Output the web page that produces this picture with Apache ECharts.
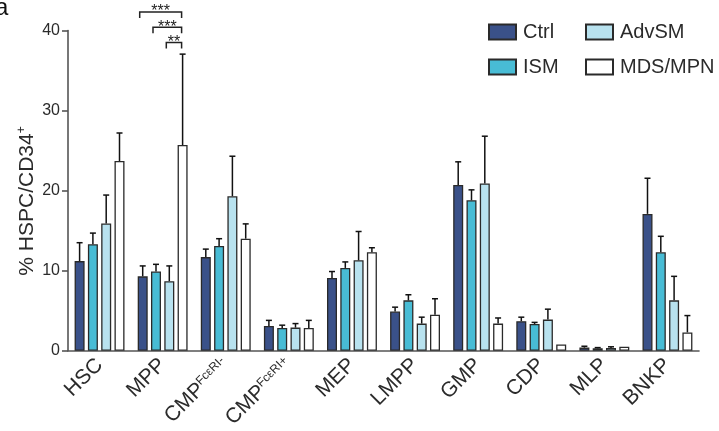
<!DOCTYPE html>
<html>
<head>
<meta charset="utf-8">
<script src="https://cdn.jsdelivr.net/npm/echarts@6/dist/echarts.min.js"></script>
<style>html,body{margin:0;padding:0;background:#fff;}#c{width:719px;height:431px;}</style>
</head>
<body>
<div id="c"></div>
<script>
// ---- data ----
const categories = ['HSC', 'MPP', 'CMP^FcεRI-', 'CMP^FcεRI+', 'MEP', 'LMPP', 'GMP', 'CDP', 'MLP', 'BNKP'];
const seriesNames = ['Ctrl', 'ISM', 'AdvSM', 'MDS/MPN'];
const ctrl    = [11.2, 9.3, 11.7, 3.1, 9.1, 4.9, 20.7, 3.7, 0.4, 17.1];
const ctrlErr = [13.5, 10.6, 12.7, 3.8, 9.9, 5.45, 23.6, 4.2, 0.57, 21.55];
const ism     = [13.3, 9.9, 13.1, 2.85, 10.35, 6.3, 18.8, 3.35, 0.32, 12.3];
const ismErr  = [14.7, 10.8, 14.0, 3.2, 11.1, 7.0, 20.1, 3.55, 0.4, 14.3];
const adv     = [15.9, 8.7, 19.3, 2.9, 11.3, 3.4, 20.9, 3.9, 0.36, 6.3];
const advErr  = [19.45, 10.6, 24.3, 3.4, 14.9, 4.2, 26.8, 5.2, 0.5, 9.3];
const mds     = [23.7, 25.7, 14.0, 2.85, 12.3, 4.5, 3.4, 0.8, 0.5, 2.3];
const mdsErr  = [27.2, 37.05, 15.85, 3.8, 12.87, 6.5, 4.1, null, null, 4.4];
const yTicks = [0, 10, 20, 30, 40];
// significance brackets: [category index, from series, to series, y level]
const brackets = [[1, 0, 3, 42.3], [1, 1, 3, 40.4], [1, 2, 3, 38.5]];
const bracketStars = ['***', '***', '**'];

// ---- styling ----
const colors = ['#3a5189', '#48bcd5', '#b8e2ef', '#ffffff'];
const values = [ctrl, ism, adv, mds];
const errs = [ctrlErr, ismErr, advErr, mdsErr];
const BW = 10, GAP = 3.3;
const offsets = [0, 1, 2, 3].map(i => -(4 * BW + 3 * GAP) / 2 + BW / 2 + i * (BW + GAP));
const FONT = '"Liberation Sans", Arial, Helvetica, sans-serif';
const TXT = '#2b2b2b';

const chart = echarts.init(document.getElementById('c'), null, {renderer: 'canvas'});

const barSeries = seriesNames.map((n, i) => ({
  name: n, type: 'bar', data: values[i], barWidth: BW, barGap: (GAP / BW * 100) + '%',
  itemStyle: {color: colors[i], borderColor: '#2a2a2a', borderWidth: 1.3},
  z: 2
}));

const errSeries = seriesNames.map((n, i) => ({
  type: 'custom', z: 3, silent: true,
  data: categories.map((c, j) => [j, values[i][j], errs[i][j] == null ? NaN : errs[i][j]]),
  encode: {x: 0, y: [1, 2]},
  renderItem: function (params, api) {
    const e = api.value(2);
    if (isNaN(e)) return null;
    const p = api.coord([api.value(0), api.value(1)]);
    const q = api.coord([api.value(0), e]);
    const x = p[0] + offsets[i];
    const st = {stroke: '#111', lineWidth: 1.5};
    return {type: 'group', children: [
      {type: 'line', shape: {x1: x, y1: p[1], x2: x, y2: q[1]}, style: st},
      {type: 'line', shape: {x1: x - 3, y1: q[1], x2: x + 3, y2: q[1]}, style: st}
    ]};
  }
}));

const bracketSeries = {
  type: 'custom', z: 4, silent: true, clip: false,
  data: brackets,
  encode: {x: 0, y: 3},
  renderItem: function (params, api) {
    const c = api.coord([api.value(0), api.value(3)]);
    const xl = c[0] + offsets[api.value(1)] - 3;
    const xr = c[0] + offsets[api.value(2)] - 1;
    const y = c[1];
    const st = {stroke: '#222', lineWidth: 1.5, fill: null};
    return {type: 'group', children: [
      {type: 'polyline', shape: {points: [[xl, y + 6], [xl, y], [xr, y], [xr, y + 6]]}, style: st},
      {type: 'text', style: {text: bracketStars[params.dataIndex], x: (xl + xr) / 2, y: y + 8,
        align: 'center', verticalAlign: 'bottom', fontSize: 16, fontFamily: FONT, fill: '#222'}}
    ]};
  }
};

const legendCommon = {
  orient: 'vertical', top: 22, padding: 0, icon: 'rect', itemWidth: 27, itemHeight: 15, itemGap: 15,
  selectedMode: false,
  textStyle: {fontSize: 20, fontFamily: FONT, color: TXT, padding: [0, 0, 0, 2]}
};

chart.setOption({
  animation: false,
  backgroundColor: '#fff',
  grid: {left: 68, right: 20, top: 30.5, bottom: 78.7},
  legend: [
    Object.assign({data: ['Ctrl', 'ISM'], left: 488}, legendCommon),
    Object.assign({data: ['AdvSM', 'MDS/MPN'], left: 585}, legendCommon)
  ],
  xAxis: {
    type: 'category', data: categories,
    axisLine: {lineStyle: {color: '#555', width: 1.6}},
    axisTick: {alignWithLabel: true, length: 6, lineStyle: {color: '#555', width: 1.6}},
    axisLabel: {
      rotate: 45, margin: 11, interval: 0, fontSize: 21, fontFamily: FONT, color: TXT,
      formatter: function (v) {
        const parts = v.split('^');
        return parts.length > 1 ? '{b|' + parts[0] + '}{s|' + parts[1] + '}' : '{b|' + v + '}';
      },
      rich: {
        b: {fontSize: 21, fontFamily: FONT, color: TXT},
        s: {fontSize: 12, fontFamily: FONT, color: TXT, verticalAlign: 'top', padding: [0, 0, 8, 0]}
      }
    }
  },
  yAxis: {
    type: 'value', min: yTicks[0], max: yTicks[yTicks.length - 1], interval: 10,
    axisLine: {show: true, lineStyle: {color: '#555', width: 1.6}},
    axisTick: {show: true, length: 6, lineStyle: {color: '#555', width: 1.6}},
    splitLine: {show: false},
    axisLabel: {fontSize: 16, fontFamily: FONT, color: TXT, margin: 8}
  },
  graphic: [
    {type: 'text', left: -5, top: -4, style: {text: 'a', fontSize: 24, fontFamily: FONT, fill: '#111'}},
    {type: 'text', x: 27, y: 201, rotation: Math.PI / 2,
      style: {text: '{m|% HSPC/CD34}{s|+}', align: 'center', verticalAlign: 'middle',
        rich: {m: {fontSize: 21, fontFamily: FONT, fill: TXT}, s: {fontSize: 12, fontFamily: FONT, fill: TXT, verticalAlign: 'top', padding: [0, 0, 10, 0]}}}}
  ],
  series: barSeries.concat(errSeries, [bracketSeries])
});
</script>
</body>
</html>
